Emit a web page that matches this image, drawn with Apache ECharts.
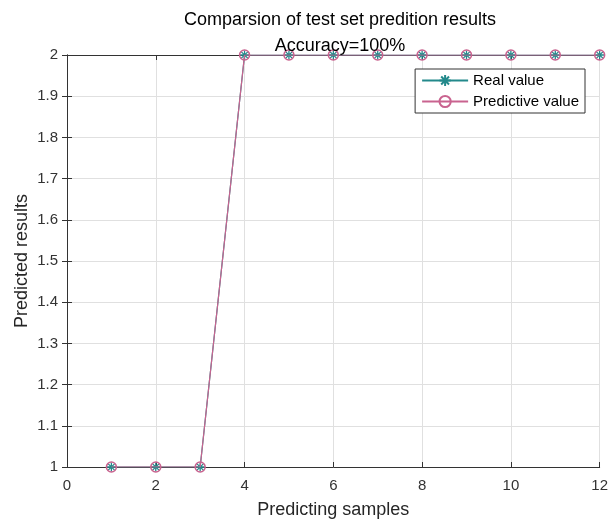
<!DOCTYPE html>
<html>
<head>
<meta charset="utf-8">
<script src="https://cdn.jsdelivr.net/npm/echarts@6/dist/echarts.min.js"></script>
<style>
  html, body { margin: 0; padding: 0; background: #fff; }
  #chart { width: 611px; height: 524px; }
</style>
</head>
<body>
<div id="chart"></div>
<script>
(function () {
    "use strict";

    // ---- Data ----
    const samples = [1, 2, 3, 4, 5, 6, 7, 8, 9, 10, 11, 12];
    const realValue = [1, 1, 1, 2, 2, 2, 2, 2, 2, 2, 2, 2];
    const predictiveValue = [1, 1, 1, 2, 2, 2, 2, 2, 2, 2, 2, 2];
    const seriesNames = ["Real value", "Predictive value"];

    const TEAL = "#23898b";
    const PINK = "#c9638f";
    const FONT = "Liberation Sans, Arial, sans-serif";

    const pairs = (xs, ys) => xs.map((x, i) => [x, ys[i]]);

    // asterisk marker (stroked)
    const STAR = "path://M5,0L5,10M0,5L10,5M1.5,1.5L8.5,8.5M1.5,8.5L8.5,1.5";

    const axisLine = { show: true, lineStyle: { color: "#333", width: 1 } };
    const tick = { show: true, inside: true, length: 5, lineStyle: { color: "#333" } };
    const label = { color: "#333", fontFamily: FONT, fontSize: 15 };

    const chart = echarts.init(document.getElementById("chart"));
    chart.setOption({
        animation: false,
        backgroundColor: "#fff",
        title: {
            text: "Comparsion of test set predition results\nAccuracy=100%",
            left: 335, top: 2, textAlign: "center",
            textStyle: { fontFamily: FONT, fontSize: 18, fontWeight: "normal", color: "#000", lineHeight: 26 }
        },
        legend: {
            right: 26, top: 69,
            orient: "vertical",
            data: seriesNames,
            backgroundColor: "#fff",
            borderColor: "#333",
            borderWidth: 1,
            borderRadius: 0,
            padding: [4, 6, 4, 6],
            itemGap: 6,
            itemWidth: 46,
            itemHeight: 14,
            textStyle: { fontFamily: FONT, fontSize: 15, color: "#000" }
        },
        grid: { left: 67, right: 11, top: 55, bottom: 56 },
        xAxis: [{
            type: "value", min: 0, max: 12, interval: 2,
            name: "Predicting samples", nameLocation: "middle", nameGap: 34,
            nameTextStyle: { fontFamily: FONT, fontSize: 18, color: "#262626" },
            axisLine, axisTick: tick, axisLabel: { ...label, margin: 11 },
            splitLine: { show: true, lineStyle: { color: "#e0e0e0" } }
        }, {
            type: "value", min: 0, max: 12, interval: 2, position: "top",
            axisLine, axisTick: tick, axisLabel: { show: false }, splitLine: { show: false }
        }],
        yAxis: [{
            type: "value", min: 1, max: 2, interval: 0.1,
            name: "Predicted results", nameLocation: "middle", nameGap: 36,
            nameMoveOverlap: false,
            nameTextStyle: { fontFamily: FONT, fontSize: 18, color: "#262626" },
            axisLine, axisTick: tick,
            axisLabel: { ...label, margin: 9, formatter: v => +v.toFixed(1) + "" },
            splitLine: { show: true, lineStyle: { color: "#e0e0e0" } }
        }, {
            type: "value", min: 1, max: 2, interval: 0.1, position: "right",
            axisLine, axisTick: tick, axisLabel: { show: false }, splitLine: { show: false }
        }],
        series: [{
            name: seriesNames[0],
            type: "line",
            data: pairs(samples, realValue),
            symbol: STAR, symbolSize: 9,
            showAllSymbol: true,
            lineStyle: { color: TEAL, width: 1.2 },
            itemStyle: { color: TEAL, borderColor: TEAL, borderWidth: 1.3 },
            z: 2
        }, {
            name: seriesNames[1],
            type: "line",
            data: pairs(samples, predictiveValue),
            symbol: "circle", symbolSize: 10,
            showAllSymbol: true,
            lineStyle: { color: PINK, width: 1.2 },
            itemStyle: { color: "transparent", borderColor: PINK, borderWidth: 1.5 },
            z: 3
        }]
    });
})();
</script>
</body>
</html>
